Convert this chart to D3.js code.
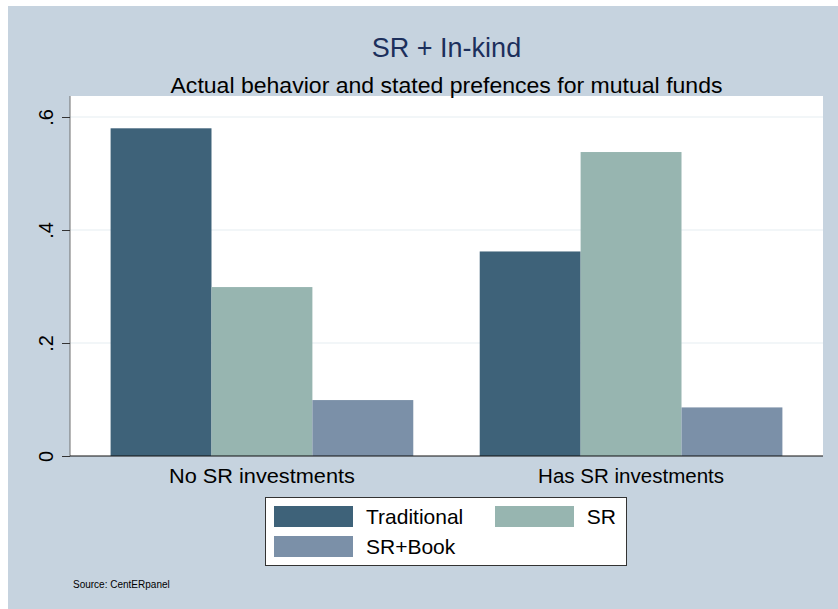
<!DOCTYPE html>
<html>
<head>
<meta charset="utf-8">
<script src="https://cdn.jsdelivr.net/npm/d3@7"></script>
<style>
  html, body { margin: 0; padding: 0; background: #ffffff; }
  svg { display: block; font-family: "Liberation Sans", Arial, sans-serif; }
</style>
</head>
<body>
<svg id="chart" width="838" height="609"></svg>
<script>
const groups = ["No SR investments", "Has SR investments"];
const seriesNames = ["Traditional", "SR", "SR+Book"];
const traditional = [0.580, 0.362];
const sr = [0.299, 0.538];
const srBook = [0.099, 0.086];
const yTicks = [0, 0.2, 0.4, 0.6];
const yTickLabels = ["0", ".2", ".4", ".6"];
const titleText = "SR + In-kind";
const subtitleText = "Actual behavior and stated prefences for mutual funds";
const noteText = "Source: CentERpanel";

const colors = { "Traditional": "#3e6279", "SR": "#97b5b0", "SR+Book": "#7b90a8" };
const seriesValues = { "Traditional": traditional, "SR": sr, "SR+Book": srBook };

const svg = d3.select("#chart");
const W = 838, H = 609;
const plot = { left: 70, right: 823, top: 96, bottom: 456 };

// outer graph region
svg.append("rect").attr("x", 8).attr("y", 6).attr("width", W - 8).attr("height", H - 6).attr("fill", "#c6d3df");
// plot region
svg.append("rect").attr("x", plot.left).attr("y", plot.top)
  .attr("width", plot.right - plot.left).attr("height", plot.bottom - plot.top).attr("fill", "#ffffff");

const y = d3.scaleLinear().domain([0, 0.6]).range([plot.bottom, 117]);
const x0 = d3.scaleBand().domain(groups).range([plot.left, plot.right]).paddingInner(0.18).paddingOuter(0.11);
const x1 = d3.scaleBand().domain(seriesNames).range([0, x0.bandwidth()]).padding(0);

// gridlines
svg.append("g").selectAll("line").data(yTicks.filter(d => d > 0)).join("line")
  .attr("x1", plot.left).attr("x2", plot.right)
  .attr("y1", d => y(d)).attr("y2", d => y(d))
  .attr("stroke", "#e6eef1").attr("stroke-width", 1.2);

// bars
const rows = [];
groups.forEach((g, gi) => seriesNames.forEach(s => rows.push({ g, s, v: seriesValues[s][gi] })));
svg.append("g").selectAll("rect").data(rows).join("rect")
  .attr("x", d => x0(d.g) + x1(d.s))
  .attr("width", x1.bandwidth())
  .attr("y", d => y(d.v))
  .attr("height", d => y(0) - y(d.v))
  .attr("fill", d => colors[d.s]);

// y axis
const yAxis = d3.axisLeft(y).tickValues(yTicks).tickFormat((d, i) => yTickLabels[i]).tickSize(8).tickPadding(0);
const ya = svg.append("g").attr("transform", `translate(${plot.left},0)`).call(yAxis);
ya.select(".domain").attr("stroke", "#6e6e6e").attr("d", `M0,${plot.top}V${plot.bottom}`);
ya.selectAll(".tick line").attr("stroke", "#333");
ya.selectAll(".tick text")
  .attr("transform", "rotate(-90)")
  .attr("x", 0).attr("y", -17).attr("dy", 0)
  .attr("text-anchor", "middle")
  .attr("font-size", 20).attr("fill", "#000")
  .style("font-family", "'Liberation Sans', Arial, sans-serif");

// x axis
const xAxis = d3.axisBottom(x0).tickSize(0).tickPadding(0);
const xa = svg.append("g").attr("transform", `translate(0,${plot.bottom})`).call(xAxis);
xa.select(".domain").attr("stroke", "#111").attr("stroke-width", 1.2).attr("d", `M${plot.left},0H${plot.right}`);
xa.selectAll(".tick text").attr("y", 27).attr("dy", 0).attr("font-size", 20).attr("fill", "#000")
  .attr("textLength", 186).attr("lengthAdjust", "spacingAndGlyphs")
  .style("font-family", "'Liberation Sans', Arial, sans-serif");

// titles
const cx = (plot.left + plot.right) / 2;
svg.append("text").attr("x", cx).attr("y", 57).attr("text-anchor", "middle")
  .attr("font-size", 27).attr("fill", "#1c2f5c").text(titleText);
svg.append("text").attr("x", cx).attr("y", 93).attr("text-anchor", "middle")
  .attr("font-size", 22).attr("fill", "#000")
  .attr("textLength", 552).attr("lengthAdjust", "spacingAndGlyphs").text(subtitleText);

// legend
const lg = svg.append("g");
lg.append("rect").attr("x", 265.5).attr("y", 497.5).attr("width", 361).attr("height", 68)
  .attr("fill", "#fff").attr("stroke", "#333").attr("stroke-width", 1);
const legendPos = [
  { s: "Traditional", x: 274, y: 506, tx: 366, anchor: "start" },
  { s: "SR", x: 495, y: 506, tx: 616, anchor: "end" },
  { s: "SR+Book", x: 274, y: 536, tx: 366, anchor: "start" }
];
lg.selectAll("rect.key").data(legendPos).join("rect").attr("class", "key")
  .attr("x", d => d.x).attr("y", d => d.y).attr("width", 79).attr("height", 21)
  .attr("fill", d => colors[d.s]);
lg.selectAll("text").data(legendPos).join("text")
  .attr("x", d => d.tx).attr("y", d => d.y + 18).attr("text-anchor", d => d.anchor)
  .attr("font-size", 21).attr("fill", "#000").text(d => d.s);

// note
svg.append("text").attr("x", 73).attr("y", 588).attr("font-size", 10).attr("fill", "#000").text(noteText);
</script>
</body>
</html>
